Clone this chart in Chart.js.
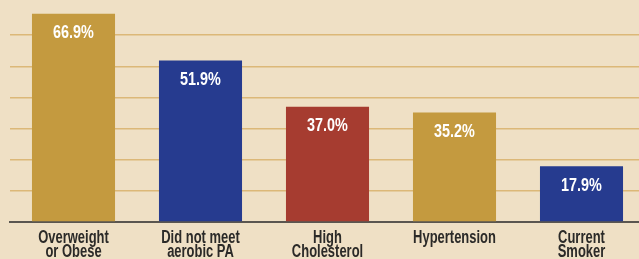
<!DOCTYPE html>
<html>
<head>
<meta charset="utf-8">
<script src="https://cdn.jsdelivr.net/npm/chart.js@4/dist/chart.umd.min.js"></script>
<style>
  html, body { margin: 0; padding: 0; background: #efe0c5; overflow: hidden; }
  #wrap { position: relative; width: 646px; height: 259px; }
</style>
</head>
<body>
<div id="wrap"><canvas id="chart"></canvas></div>
<script>
var categories = [['Overweight', 'or Obese'], ['Did not meet', 'aerobic PA'], ['High', 'Cholesterol'], ['Hypertension'], ['Current', 'Smoker']];
var values = [66.9, 51.9, 37.0, 35.2, 17.9];
var barColors = ['#c49a3f', '#263b8f', '#a63c30', '#c49a3f', '#263b8f'];

var FONT = '"Liberation Sans", Arial, sans-serif';

// condensed bold text, the reference uses a narrow face
function narrowText(ctx, text, x, y, size, squeeze) {
  ctx.save();
  ctx.font = 'bold ' + size + 'px ' + FONT;
  ctx.textAlign = 'center';
  ctx.textBaseline = 'alphabetic';
  ctx.translate(x, y);
  ctx.scale(squeeze, 1);
  ctx.fillText(text, 0, 0);
  ctx.restore();
}

var barText = {
  id: 'barText',
  afterDatasetsDraw: function(chart) {
    var ctx = chart.ctx;
    var meta = chart.getDatasetMeta(0);
    var bottom = chart.chartArea.bottom;
    meta.data.forEach(function(bar, i) {
      ctx.fillStyle = '#ffffff';
      narrowText(ctx, values[i].toFixed(1) + '%', bar.x, bar.y + 24.5, 18, 0.8);
      ctx.fillStyle = '#2b2a28';
      categories[i].forEach(function(line, j) {
        narrowText(ctx, line, bar.x, bottom + 21 + j * 14, 18, 0.72);
      });
    });
  }
};

new Chart(document.getElementById('chart'), {
  type: 'bar',
  data: {
    labels: categories,
    datasets: [{
      data: values,
      backgroundColor: barColors,
      barPercentage: 0.654,
      categoryPercentage: 1.0
    }]
  },
  options: {
    responsive: true,
    maintainAspectRatio: false,
    animation: false,
    layout: { padding: { left: 10, right: 1, top: 0, bottom: 37 } },
    plugins: { legend: { display: false }, tooltip: { enabled: false } },
    scales: {
      x: {
        grid: { display: false, drawTicks: false },
        border: { color: '#5a5650', width: 2 },
        ticks: { display: false }
      },
      y: {
        min: 0,
        max: 71.3,
        ticks: { display: false, stepSize: 10 },
        border: { display: false },
        grid: {
          drawTicks: false,
          lineWidth: 1.5,
          color: function(c) {
            var v = c.tick ? c.tick.value : 0;
            return (v > 0 && v <= 60) ? '#dcb878' : 'rgba(0,0,0,0)';
          }
        }
      }
    }
  },
  plugins: [barText]
});
</script>
</body>
</html>
